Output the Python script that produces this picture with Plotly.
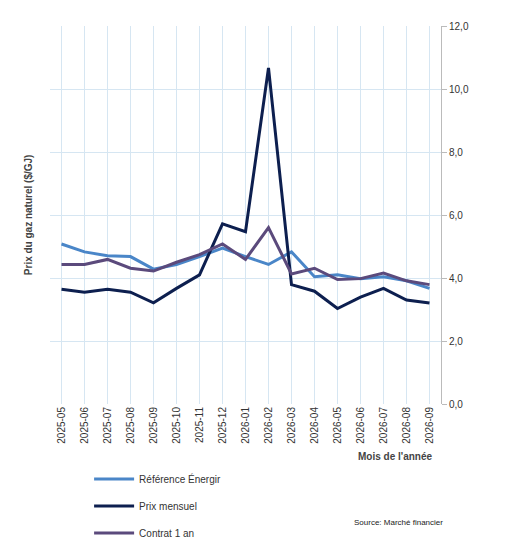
import plotly.graph_objects as go

months = ["2025-05","2025-06","2025-07","2025-08","2025-09","2025-10","2025-11","2025-12",
          "2026-01","2026-02","2026-03","2026-04","2026-05","2026-06","2026-07","2026-08","2026-09"]
reference = [5.08,4.83,4.71,4.68,4.28,4.43,4.68,4.95,4.68,4.43,4.83,4.04,4.10,3.98,4.04,3.91,3.67]
prix = [3.64,3.55,3.64,3.55,3.21,3.67,4.10,5.72,5.47,10.67,3.79,3.58,3.03,3.39,3.67,3.30,3.21]
contrat = [4.43,4.43,4.59,4.31,4.22,4.50,4.74,5.08,4.59,5.60,4.13,4.31,3.95,3.98,4.16,3.91,3.79]
yticks = [0,2,4,6,8,10,12]
yticklabels = ["0,0","2,0","4,0","6,0","8,0","10,0","12,0"]

fig = go.Figure()
fig.add_trace(go.Scatter(x=months, y=reference, mode="lines", name="Référence Énergir",
                         legendgroup="a", line=dict(color="#4a86c8", width=3)))
fig.add_trace(go.Scatter(x=months, y=prix, mode="lines", name="Prix mensuel",
                         legendgroup="b", line=dict(color="#0d1f4f", width=3)))
fig.add_trace(go.Scatter(x=months, y=contrat, mode="lines", name="Contrat 1 an",
                         legendgroup="c", line=dict(color="#5b4a7c", width=3)))

fig.update_layout(
    width=519, height=552, plot_bgcolor="white", paper_bgcolor="white",
    margin=dict(l=42, r=86, t=18, b=142),
    font=dict(family="Liberation Sans, Arial", size=10, color="#333"),
    xaxis=dict(type="category", tickangle=-90, showgrid=True, gridcolor="#d6e6f2",
               showline=False, ticks="", range=[-0.5, 16.5],
               tickfont=dict(size=10, color="#333")),
    yaxis=dict(side="right", range=[0, 12], tickvals=yticks, ticktext=yticklabels,
               showgrid=True, gridcolor="#d6e6f2", zeroline=False,
               showline=True, linecolor="#bbb", ticks="outside", tickcolor="#bbb",
               tickfont=dict(size=10, color="#333")),
    legend=dict(orientation="v", x=0.1, y=-0.16, xanchor="left", yanchor="top",
                tracegroupgap=8, itemwidth=40, font=dict(size=10, color="#333")),
    showlegend=True,
    annotations=[
        dict(text="<b>Prix du gaz naturel ($/GJ)</b>", x=-0.075, y=0.5, xref="paper", yref="paper",
             textangle=-90, showarrow=False, font=dict(size=10, color="#444")),
        dict(text="<b>Mois de l'année</b>", x=0.985, y=-0.16, xref="paper", yref="paper",
             xanchor="right", showarrow=False, font=dict(size=10, color="#444")),
        dict(text="Source: Marché financier", x=1.01, y=-0.33, xref="paper", yref="paper",
             xanchor="right", showarrow=False, font=dict(size=8, color="#222")),
    ],
)
fig.write_html("out.html")
